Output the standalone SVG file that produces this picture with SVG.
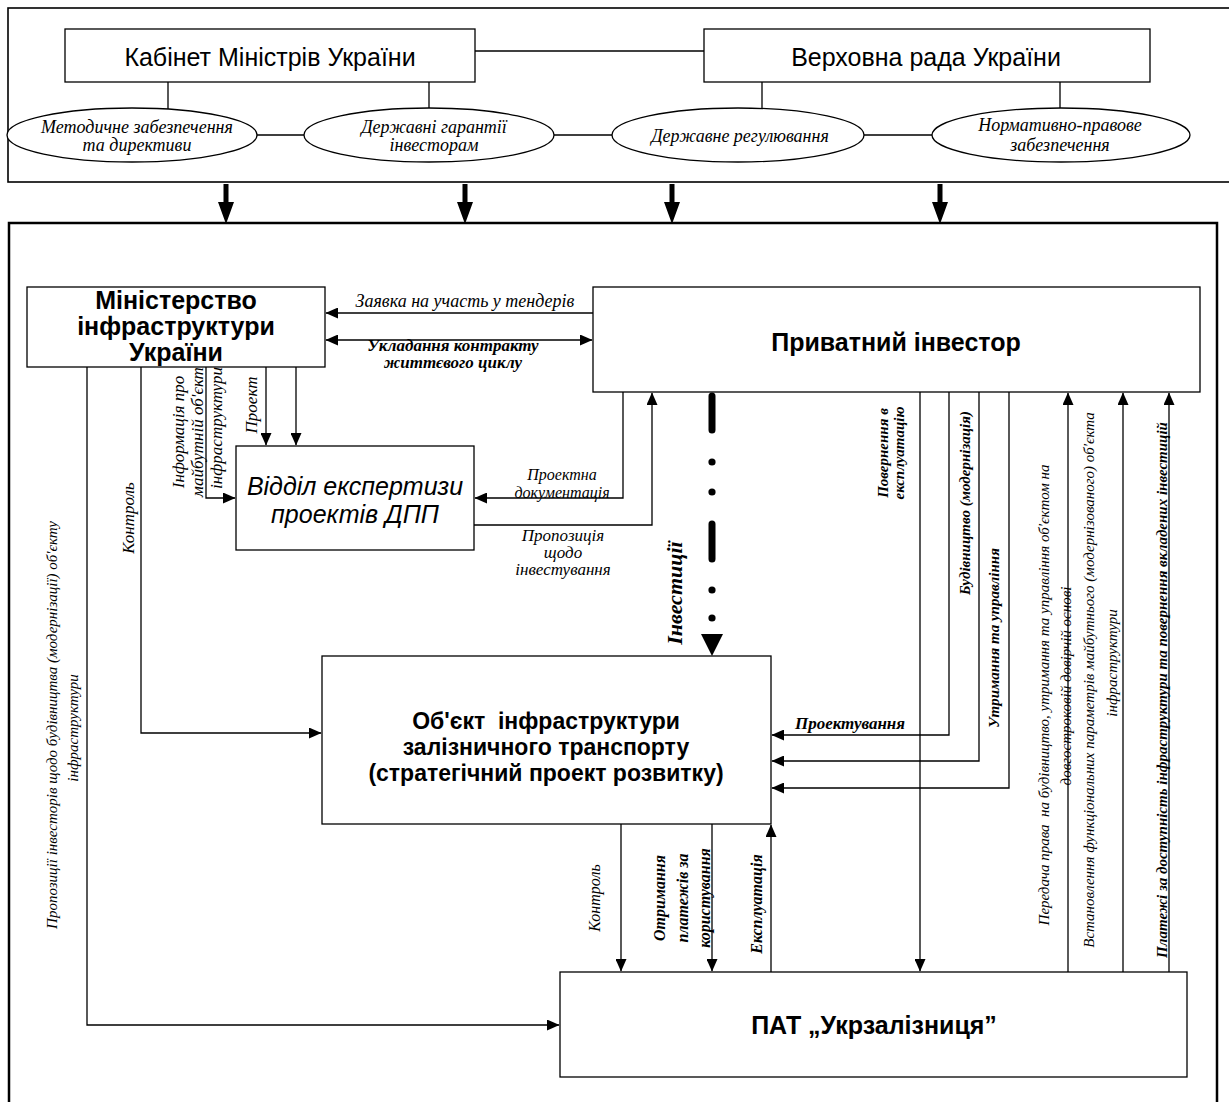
<svg xmlns="http://www.w3.org/2000/svg" width="1229" height="1102" viewBox="0 0 1229 1102">
<defs>
<marker id="ah" markerUnits="userSpaceOnUse" markerWidth="13" markerHeight="11" refX="12" refY="5.5" orient="auto-start-reverse" viewBox="0 0 13 11">
<path d="M0,0 L12.5,5.5 L0,11 Z" fill="#000"/>
</marker>
</defs>
<style>
.box{fill:#fff;stroke:#000;stroke-width:1.3}
.ln{fill:none;stroke:#000;stroke-width:1.3}
.ar{marker-end:url(#ah)}
.big{fill:none;stroke:#000;stroke-width:5}
.sans{font-family:"Liberation Sans",Arial,sans-serif;text-anchor:middle;dominant-baseline:central}
.lbl{font-family:"Liberation Serif","Times New Roman",serif;font-style:italic;font-size:15px;text-anchor:middle;dominant-baseline:central}
.m{font-size:17px}
.s16{font-size:16px}
.el{font-size:18px}
.xl{font-size:22px}
.b{font-weight:bold}
</style>
<rect width="1229" height="1102" fill="#fff"/>

<g id="frame">
<rect x="8" y="8" width="1240" height="174" fill="none" stroke="#000" stroke-width="1.6"/>
<path d="M9,1102 V223 H1217 V1102" fill="none" stroke="#000" stroke-width="2.5"/>
</g>

<g id="connectors">
<path class="ln" d="M475,51 H704"/>
<path class="ln" d="M168,82 V109 M429,82 V108 M762,82 V109 M1060,82 V108"/>
<path class="ln" d="M257,135 H304 M554,135 H612 M864,135 H932"/>
<g id="big-arrows">
<path class="big" d="M226,184 V204 M465,184 V204 M672,184 V204 M940,184 V204"/>
<path d="M218,202 H234 L226,224 Z M457,202 H473 L465,224 Z M664,202 H680 L672,224 Z M932,202 H948 L940,224 Z" fill="#000"/>
</g>
<path class="ln ar" d="M593,313 H326"/>
<path class="ln ar" d="M326,340 H592" marker-start="url(#ah)"/>
<path class="ln ar" d="M87,367 V1025 H559"/>
<path class="ln ar" d="M141,367 V733 H321"/>
<path class="ln ar" d="M206,367 V498 H235"/>
<path class="ln ar" d="M266,367 V445"/>
<path class="ln ar" d="M296,367 V445"/>
<path class="ln ar" d="M623,392 V498 H475"/>
<path class="ln ar" d="M474,525 H652 V393"/>
<g id="invest">
<path d="M712,396 V430 M712,524 V559" stroke="#000" stroke-width="7" stroke-linecap="round" fill="none"/>
<circle cx="712" cy="462" r="3.6"/>
<circle cx="712" cy="492" r="3.6"/>
<circle cx="712" cy="590" r="3.6"/>
<circle cx="712" cy="618" r="3.6"/>
<path d="M701,634 H723 L712,656 Z" fill="#000"/>
</g>
<path class="ln ar" d="M920,392 V971"/>
<path class="ln ar" d="M949,392 V735 H772"/>
<path class="ln ar" d="M979,392 V761 H772"/>
<path class="ln ar" d="M1009,392 V788 H772"/>
<path class="ln ar" d="M1068,972 V393"/>
<path class="ln ar" d="M1123,972 V393"/>
<path class="ln ar" d="M1169,972 V393"/>
<path class="ln ar" d="M621,824 V971"/>
<path class="ln ar" d="M712,824 V971"/>
<path class="ln ar" d="M771,972 V825"/>

<g id="labels">
<text class="lbl el" x="465" y="301">Заявка на участь у тендерів</text>
<text class="lbl m b" x="453" y="345">Укладання контракту</text>
<text class="lbl m b" x="453" y="362">життєвого циклу</text>
<text class="lbl s16" x="562" y="474">Проектна</text>
<text class="lbl s16" x="562" y="492">документація</text>
<text class="lbl m" x="563" y="535">Пропозиція</text>
<text class="lbl m" x="563" y="552">щодо</text>
<text class="lbl m" x="563" y="569">інвестування</text>
<text class="lbl m" transform="translate(178,432) rotate(-90)">Інформація про</text>
<text class="lbl m" transform="translate(197,432) rotate(-90)">майбутній об'єкт</text>
<text class="lbl m" transform="translate(216,428) rotate(-90)">інфраструктури</text>
<text class="lbl m" transform="translate(251,405) rotate(-90)">Проект</text>
<text class="lbl m" transform="translate(128,518) rotate(-90)">Контроль</text>
<text class="lbl" transform="translate(52,725) rotate(-90)">Пропозиції інвесторів щодо будівництва (модернізації) об'єкту</text>
<text class="lbl" transform="translate(73,728) rotate(-90)">інфраструктури</text>
<text class="lbl xl b" transform="translate(674,593) rotate(-90)">Інвестиції</text>
<text class="lbl b" transform="translate(883,453) rotate(-90)">Повернення в</text>
<text class="lbl b" transform="translate(899,453) rotate(-90)">експлуатацію</text>
<text class="lbl b" transform="translate(965,503) rotate(-90)">Будівництво (модернізація)</text>
<text class="lbl b" transform="translate(994,638) rotate(-90)">Утримання та управління</text>
<text class="lbl" transform="translate(1044,695) rotate(-90)" xml:space="preserve">Передача права  на будівництво, утримання та управління об'єктом на</text>
<text class="lbl" transform="translate(1066,686) rotate(-90)">довгостроковій довірчій основі</text>
<text class="lbl" transform="translate(1089,680) rotate(-90)">Встановлення функціональних параметрів майбутнього (модернізованого) об'єкта</text>
<text class="lbl" transform="translate(1112,663) rotate(-90)">інфраструктури</text>
<text class="lbl b" transform="translate(1162,690) rotate(-90)">Платежі за доступність інфраструктури та повернення вкладених інвестицій</text>
<text class="lbl m b" x="850" y="723">Проектування</text>
<text class="lbl s16" transform="translate(594,898) rotate(-90)">Контроль</text>
<text class="lbl s16 b" transform="translate(659,898) rotate(-90)">Отримання</text>
<text class="lbl s16 b" transform="translate(682,898) rotate(-90)">платежів за</text>
<text class="lbl s16 b" transform="translate(704,898) rotate(-90)">користування</text>
<text class="lbl s16 b" transform="translate(756,904) rotate(-90)">Експлуатація</text>
</g>
</g>

<g id="cabinet">
<rect class="box" x="65" y="29" width="410" height="53"/>
<text class="sans" x="270" y="57" font-size="25">Кабінет Міністрів України</text>
</g>
<g id="rada">
<rect class="box" x="704" y="29" width="446" height="53"/>
<text class="sans" x="926" y="57" font-size="25">Верховна рада України</text>
</g>
<g id="e-method">
<ellipse class="box" cx="132" cy="135" rx="125" ry="27"/>
<text class="lbl el" x="137" y="127">Методичне забезпечення</text>
<text class="lbl el" x="137" y="145">та директиви</text>
</g>
<g id="e-guarantee">
<ellipse class="box" cx="429" cy="135" rx="125" ry="27"/>
<text class="lbl el" x="434" y="127">Державні гарантії</text>
<text class="lbl el" x="434" y="145">інвесторам</text>
</g>
<g id="e-regulation">
<ellipse class="box" cx="738" cy="135" rx="126" ry="27"/>
<text class="lbl el" x="740" y="136">Державне регулювання</text>
</g>
<g id="e-normative">
<ellipse class="box" cx="1061" cy="135" rx="129" ry="27"/>
<text class="lbl el" x="1060" y="125">Нормативно-правове</text>
<text class="lbl el" x="1060" y="145">забезпечення</text>
</g>

<g id="ministry">
<rect class="box" x="27" y="287" width="298" height="80"/>
<text class="sans b" x="176" y="300" font-size="25">Міністерство</text>
<text class="sans b" x="176" y="326" font-size="25">інфраструктури</text>
<text class="sans b" x="176" y="352" font-size="25">України</text>
</g>
<g id="investor">
<rect class="box" x="593" y="287" width="607" height="105"/>
<text class="sans b" x="896" y="342" font-size="25">Приватний інвестор</text>
</g>
<g id="expertise">
<rect class="box" x="236" y="446" width="238" height="104"/>
<text class="sans" x="355" y="486" font-size="25" font-style="italic">Відділ експертизи</text>
<text class="sans" x="355" y="514" font-size="25" font-style="italic">проектів ДПП</text>
</g>
<g id="object">
<rect class="box" x="322" y="656" width="449" height="168"/>
<text class="sans b" x="546" y="721" font-size="23" xml:space="preserve">Об'єкт  інфраструктури</text>
<text class="sans b" x="546" y="747" font-size="23">залізничного транспорту</text>
<text class="sans b" x="546" y="773" font-size="23">(стратегічний проект розвитку)</text>
</g>
<g id="ukrzaliznytsia">
<rect class="box" x="560" y="972" width="627" height="105"/>
<text class="sans b" x="874" y="1025" font-size="25">ПАТ „Укрзалізниця”</text>
</g>
</svg>
